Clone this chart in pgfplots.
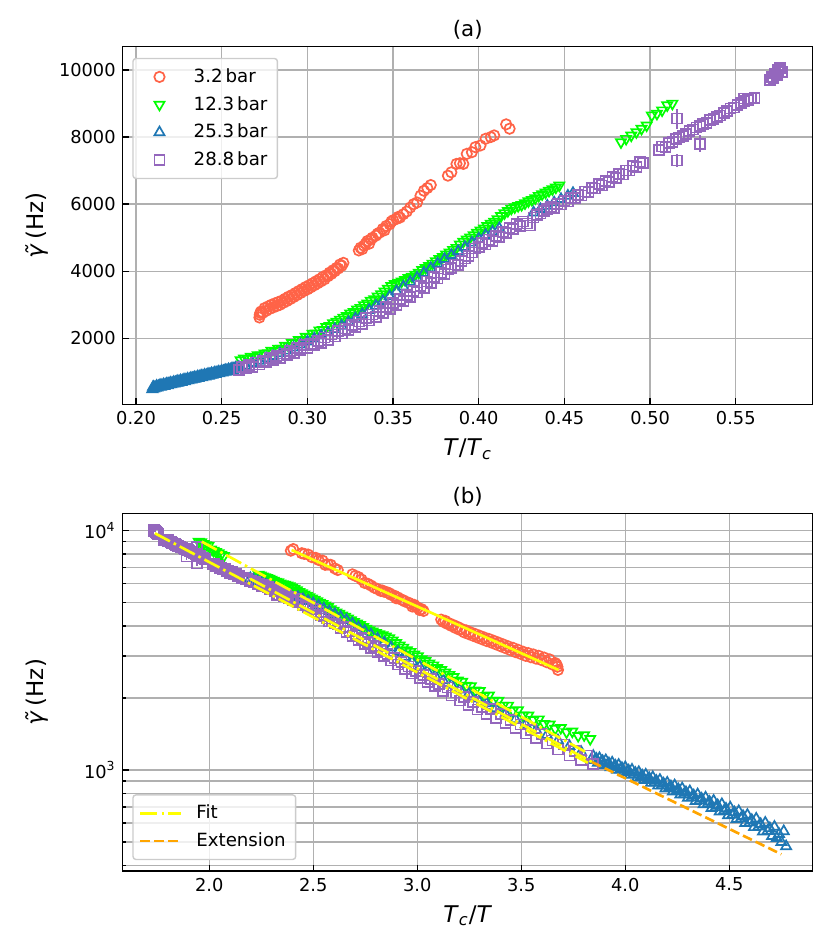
\documentclass[border=0pt]{standalone}
\usepackage{fontspec}
\setmainfont{DejaVu Sans}
\usepackage{pgfplots}
\usepackage{pgfplotstable}
\pgfplotsset{compat=1.18}
\definecolor{cred}{HTML}{FF6347}
\definecolor{cgreen}{HTML}{00FF00}
\definecolor{cblue}{HTML}{1F77B4}
\definecolor{cpurple}{HTML}{9467BD}
\definecolor{cgrid}{HTML}{B0B0B0}
\definecolor{cfit}{HTML}{FFFF00}
\definecolor{cext}{HTML}{FFA500}

\pgfplotstableread[row sep=\\]{
x y\\
0.2720 2620\\ 0.2722 2700\\ 0.2725 2760\\ 0.273 2800\\ 0.274 2760\\ 0.275 2900\\ 0.276 2820\\ 0.277 2950\\ 0.278 2880\\ 0.279 3000\\
0.280 2920\\ 0.281 3040\\ 0.282 2960\\ 0.283 3080\\ 0.284 3000\\ 0.285 3120\\ 0.286 3060\\ 0.287 3180\\ 0.288 3110\\ 0.289 3240\\
0.290 3170\\ 0.291 3290\\ 0.292 3230\\ 0.293 3350\\ 0.294 3290\\ 0.295 3410\\ 0.296 3350\\ 0.297 3470\\ 0.298 3410\\ 0.299 3530\\
0.300 3460\\ 0.301 3580\\ 0.302 3520\\ 0.303 3640\\ 0.304 3580\\ 0.305 3700\\ 0.306 3640\\ 0.307 3760\\ 0.308 3700\\ 0.309 3830\\
0.310 3760\\ 0.311 3880\\ 0.312 3850\\ 0.313 3960\\ 0.314 3920\\ 0.315 4030\\ 0.316 4000\\ 0.317 4100\\ 0.318 4080\\ 0.319 4200\\
0.320 4160\\ 0.321 4250\\
0.330 4620\\ 0.331 4700\\ 0.332 4660\\ 0.333 4760\\ 0.334 4820\\ 0.335 4900\\ 0.336 4820\\ 0.337 4950\\ 0.338 5000\\ 0.340 5060\\
0.341 5120\\ 0.342 5150\\ 0.344 5260\\ 0.345 5220\\ 0.346 5350\\ 0.348 5400\\ 0.349 5480\\ 0.350 5520\\ 0.352 5560\\ 0.353 5620\\
0.354 5600\\ 0.356 5700\\ 0.358 5780\\ 0.360 5900\\ 0.362 6000\\ 0.364 6050\\ 0.366 6250\\ 0.368 6400\\ 0.370 6480\\ 0.372 6570\\
0.382 6850\\ 0.384 6950\\ 0.387 7200\\ 0.389 7220\\ 0.391 7200\\ 0.393 7500\\ 0.396 7550\\ 0.398 7700\\ 0.401 7750\\ 0.404 7950\\
0.407 8000\\ 0.409 8050\\ 0.416 8380\\ 0.418 8250\\
}\redtab

\pgfplotstableread[row sep=\\]{
x y\\
0.261 1350\\ 0.263 1400\\ 0.265 1390\\ 0.267 1450\\ 0.269 1440\\ 0.271 1500\\ 0.273 1490\\ 0.275 1550\\ 0.277 1560\\ 0.279 1630\\
0.281 1620\\ 0.283 1690\\ 0.285 1690\\ 0.287 1780\\ 0.289 1770\\ 0.291 1860\\ 0.293 1860\\ 0.295 1950\\ 0.297 1950\\ 0.299 2050\\
0.301 2040\\ 0.303 2140\\ 0.305 2150\\ 0.307 2240\\ 0.309 2250\\ 0.311 2340\\ 0.313 2370\\ 0.315 2450\\ 0.317 2500\\ 0.319 2560\\
0.321 2620\\ 0.323 2670\\ 0.325 2740\\ 0.327 2790\\ 0.329 2860\\ 0.331 2910\\ 0.333 2990\\ 0.335 3040\\ 0.337 3120\\ 0.339 3170\\
0.341 3250\\ 0.343 3320\\ 0.345 3400\\ 0.347 3480\\ 0.349 3560\\ 0.351 3620\\ 0.353 3660\\ 0.355 3700\\ 0.357 3740\\ 0.359 3800\\
0.361 3840\\ 0.363 3900\\ 0.365 3960\\ 0.367 4040\\ 0.369 4100\\ 0.371 4160\\ 0.373 4230\\ 0.375 4300\\ 0.377 4370\\ 0.379 4430\\
0.381 4500\\ 0.383 4560\\ 0.385 4640\\ 0.387 4700\\ 0.389 4800\\ 0.391 4880\\ 0.393 4950\\ 0.395 5010\\ 0.397 5080\\ 0.399 5150\\
0.401 5220\\ 0.403 5280\\ 0.405 5350\\ 0.407 5420\\ 0.409 5480\\ 0.411 5550\\ 0.413 5650\\ 0.415 5730\\ 0.417 5800\\ 0.419 5870\\
0.421 5910\\ 0.423 5950\\ 0.425 5980\\ 0.427 6030\\ 0.429 6090\\ 0.431 6130\\ 0.433 6180\\ 0.435 6250\\ 0.437 6300\\ 0.439 6350\\
0.441 6400\\ 0.443 6450\\ 0.445 6500\\ 0.447 6560\\
0.483 7850\\ 0.486 7950\\ 0.489 8050\\ 0.492 8150\\ 0.495 8250\\ 0.498 8350\\ 0.501 8650\\ 0.504 8700\\ 0.507 8800\\ 0.510 8950\\
0.513 9000\\
}\greentab

\pgfplotstableread[row sep=\\]{
x y\\
0.2095 480\\ 0.2100 555\\ 0.2105 500\\ 0.2110 540\\ 0.2115 520\\
0.2120 579\\ 0.2125 530\\ 0.2130 571\\ 0.2135 556\\ 0.2140 602\\ 0.2145 553\\ 0.2150 594\\ 0.2155 580\\
0.2160 626\\ 0.2165 577\\ 0.2170 618\\ 0.2175 603\\ 0.2180 649\\ 0.2185 600\\ 0.2190 642\\ 0.2195 627\\
0.2200 673\\ 0.2205 624\\ 0.2210 665\\ 0.2215 650\\ 0.2220 697\\ 0.2225 647\\ 0.2230 689\\ 0.2235 674\\
0.2240 720\\ 0.2245 671\\ 0.2250 712\\ 0.2255 698\\ 0.2260 744\\ 0.2265 694\\ 0.2270 736\\ 0.2275 721\\
0.2280 767\\ 0.2285 718\\ 0.2290 759\\ 0.2295 745\\ 0.2300 791\\ 0.2305 742\\ 0.2310 783\\ 0.2315 769\\
0.2320 815\\ 0.2325 765\\ 0.2330 807\\ 0.2335 792\\ 0.2340 838\\ 0.2345 789\\ 0.2350 830\\ 0.2355 816\\
0.2360 862\\ 0.2365 812\\ 0.2370 854\\ 0.2375 840\\ 0.2380 885\\ 0.2385 836\\ 0.2390 877\\ 0.2395 863\\
0.2400 909\\ 0.2405 860\\ 0.2410 901\\ 0.2415 887\\ 0.2420 933\\ 0.2425 883\\ 0.2430 925\\ 0.2435 910\\
0.2440 956\\ 0.2445 907\\ 0.2450 948\\ 0.2455 934\\ 0.2460 980\\ 0.2465 930\\ 0.2470 972\\ 0.2475 958\\
0.2480 1003\\ 0.2485 954\\ 0.2490 995\\ 0.2495 981\\ 0.2500 1027\\ 0.2505 978\\ 0.2510 1019\\ 0.2515 1005\\
0.2520 1051\\ 0.2525 1001\\ 0.2530 1043\\ 0.2535 1028\\ 0.2540 1074\\ 0.2545 1025\\ 0.2550 1066\\ 0.2555 1052\\
0.2560 1098\\ 0.2565 1048\\ 0.2570 1090\\ 0.2575 1076\\ 0.2580 1121\\ 0.2585 1072\\ 0.2590 1113\\ 0.2595 1099\\
0.2600 1145\\
0.264 1190\\ 0.268 1260\\ 0.272 1330\\ 0.276 1400\\ 0.280 1470\\ 0.284 1550\\ 0.288 1630\\ 0.292 1720\\ 0.296 1810\\
0.300 1900\\ 0.304 1990\\ 0.308 2080\\ 0.312 2170\\ 0.316 2270\\ 0.320 2370\\ 0.324 2480\\ 0.328 2590\\ 0.332 2710\\ 0.336 2840\\
0.340 2970\\ 0.344 3110\\ 0.348 3250\\ 0.352 3400\\ 0.356 3540\\ 0.360 3680\\ 0.364 3810\\ 0.368 3950\\ 0.372 4090\\ 0.376 4230\\
0.380 4360\\ 0.384 4480\\ 0.388 4600\\ 0.392 4720\\ 0.396 4850\\ 0.400 4970\\ 0.404 5080\\ 0.408 5180\\ 0.412 5280\\
0.432 5750\\ 0.436 5850\\ 0.440 5950\\ 0.444 6050\\ 0.448 6150\\ 0.452 6250\\ 0.455 6330\\
}\bluetab

\pgfplotstableread[row sep=\\]{
x y\\
0.260 1060\\ 0.262 1150\\ 0.264 1100\\ 0.266 1200\\ 0.268 1150\\ 0.270 1280\\ 0.272 1220\\ 0.274 1330\\ 0.276 1290\\ 0.278 1410\\
0.280 1360\\ 0.282 1470\\ 0.284 1420\\ 0.286 1550\\ 0.288 1500\\ 0.290 1620\\ 0.292 1570\\ 0.294 1710\\ 0.296 1650\\ 0.298 1800\\
0.300 1710\\ 0.302 1830\\ 0.304 1790\\ 0.306 1920\\ 0.308 1870\\ 0.310 2020\\ 0.312 1950\\ 0.314 2110\\ 0.316 2050\\ 0.318 2210\\
0.320 2140\\ 0.322 2290\\ 0.324 2240\\ 0.326 2400\\ 0.328 2330\\ 0.330 2500\\ 0.332 2420\\ 0.334 2600\\ 0.336 2530\\ 0.338 2710\\
0.340 2640\\ 0.342 2820\\ 0.344 2760\\ 0.346 2940\\ 0.348 2870\\ 0.350 3060\\ 0.352 2990\\ 0.354 3170\\ 0.356 3120\\ 0.358 3300\\
0.360 3240\\ 0.362 3420\\ 0.364 3370\\ 0.366 3550\\ 0.368 3500\\ 0.370 3690\\ 0.372 3640\\ 0.374 3820\\ 0.376 3780\\ 0.378 3960\\
0.380 3920\\ 0.382 4050\\ 0.384 4100\\ 0.386 4200\\ 0.388 4180\\ 0.390 4300\\ 0.392 4380\\ 0.394 4450\\ 0.396 4560\\ 0.398 4680\\
0.400 4720\\ 0.402 4840\\ 0.404 4800\\ 0.406 4950\\ 0.408 4900\\ 0.410 5060\\ 0.412 5020\\ 0.414 5170\\ 0.416 5130\\ 0.418 5290\\
0.420 5250\\ 0.422 5400\\ 0.424 5350\\ 0.426 5480\\ 0.428 5420\\ 0.430 5360\\ 0.432 5600\\ 0.434 5680\\ 0.436 5720\\ 0.438 5800\\
0.440 5850\\ 0.442 5920\\ 0.444 5880\\ 0.446 6010\\ 0.448 5990\\ 0.450 6100\\ 0.452 6080\\ 0.454 6190\\ 0.456 6180\\ 0.458 6280\\
0.460 6260\\ 0.462 6380\\ 0.464 6360\\ 0.466 6480\\ 0.468 6470\\ 0.470 6600\\ 0.472 6560\\ 0.474 6700\\ 0.476 6670\\ 0.478 6800\\
0.480 6780\\ 0.482 6900\\ 0.484 6880\\ 0.486 7000\\ 0.488 7000\\ 0.490 7130\\ 0.492 7100\\ 0.494 7250\\ 0.496 7220\\
0.505 7620\\ 0.507 7720\\ 0.509 7700\\ 0.511 7830\\ 0.513 7860\\ 0.515 7940\\ 0.517 7990\\ 0.519 8040\\ 0.521 8100\\ 0.523 8180\\
0.525 8230\\ 0.527 8290\\ 0.529 8330\\ 0.531 8380\\ 0.533 8420\\ 0.535 8500\\ 0.537 8530\\ 0.539 8600\\ 0.541 8640\\ 0.543 8720\\
0.545 8780\\ 0.547 8850\\ 0.549 8880\\ 0.551 8960\\ 0.553 9020\\ 0.555 9080\\ 0.557 9110\\ 0.559 9150\\ 0.561 9160\\
0.570 9700\\ 0.571 9800\\ 0.572 9750\\ 0.573 9900\\ 0.574 9850\\ 0.575 9950\\ 0.576 10050\\ 0.577 9950\\
}\purtab

\pgfplotstableread[row sep=\\]{
x y e\\
0.5155 8550 300\\ 0.5155 7300 200\\ 0.529 7800 250\\ 0.555 9150 150\\ 0.5745 10000 150\\
}\purerr

\pgfplotsset{
  mystyle/.style={
    scale only axis, width=345pt, height=178.8pt,
    axis line style={line width=0.7pt},
    every tick/.style={line width=0.7pt, black},
    major tick length=3.1pt, minor tick length=1.8pt,
    tick align=inside, tick pos=left,
    xmajorgrids=true, ymajorgrids=true,
    major grid style={cgrid, line width=0.7pt},
    minor grid style={cgrid, line width=0.7pt},
    tick label style={font=\fontsize{8.9}{10}\selectfont},
    /pgf/number format/assume math mode=true,
    scaled ticks=false,
    clip marker paths=true,
    every axis title shift=0pt,
    label style={font=\fontsize{11.5}{13}\selectfont},
    title style={font=\fontsize{10.7}{12}\selectfont, at={(axis description cs:0.5,1)}, anchor=center, yshift=8.35pt},
    x label style={at={(axis description cs:0.5,-0.125)}, anchor=center},
    y label style={at={(axis description cs:-0.124,0.5)}, anchor=center},
    legend cell align=left,
    legend style={draw=black!20, fill=white, fill opacity=0.8, text opacity=1,
      rounded corners=1.5pt, line width=0.7pt, font=\fontsize{9.1}{10}\selectfont,
      inner xsep=3pt, inner ysep=3pt, row sep=1.45pt,
      /tikz/every odd column/.append style={column sep=4.85pt}},
  },
  mred/.style={only marks, mark=o, mark size=2.6pt, cred, mark options={line width=0.85pt}},
  mgreen/.style={only marks, mark=triangle, mark size=2.9pt, cgreen, mark options={line width=0.85pt, rotate=180}},
  mblue/.style={only marks, mark=triangle, mark size=2.9pt, cblue, mark options={line width=0.85pt}},
  mpur/.style={only marks, mark=square, mark size=2.5pt, cpurple, mark options={line width=0.85pt}},
}

\begin{document}
\begin{tikzpicture}
\useasboundingbox (-61.35pt,-272.35pt) rectangle (353.65pt,202.15pt);
\begin{axis}[mystyle, at={(0,0)}, anchor=south west,
  xmin=0.1922, xmax=0.5949, ymin=32, ymax=10695,
  xtick={0.2,0.25,0.3,0.35,0.4,0.45,0.5,0.55},
  ytick={2000,4000,6000,8000,10000},
  xticklabel style={/pgf/number format/.cd, fixed, fixed zerofill, precision=2},
  yticklabel style={/pgf/number format/.cd, fixed, 1000 sep={}},
  title={(a)},
  xlabel={\textit{T}/\textit{T}\textsubscript{\textit{c}}},
  ylabel={\textit{γ̃}\,(Hz)},
  legend style={at={(axis description cs:0.0139,0.969)}, anchor=north west},
  legend image code/.code={\path[draw=none,fill=none] (0pt,-3pt) rectangle (20.5pt,3pt); \draw[mark repeat=2,mark phase=2,#1] plot coordinates {(0pt,0pt) (10.25pt,0pt) (20.5pt,0pt)};},
]
\addplot[mred] table[x=x,y=y] {\redtab};
\addlegendentry{3.2\,bar}
\addplot[mgreen] table[x=x,y=y] {\greentab};
\addlegendentry{12.3\,bar}
\addplot[mblue] table[x=x,y=y] {\bluetab};
\addlegendentry{25.3\,bar}
\addplot[mpur] table[x=x,y=y] {\purtab};
\addlegendentry{28.8\,bar}
\addplot[mpur, forget plot, error bars/.cd, y dir=both, y explicit, error mark=none, error bar style={line width=0.85pt, cpurple}] table[x=x,y=y,y error=e] {\purerr};
\end{axis}

\begin{axis}[mystyle, at={(0,-54.5pt)}, anchor=north west,
  ymode=log,
  xmin=1.584, xmax=4.901, ymin=379, ymax=11820,
  xtick={2,2.5,3,3.5,4,4.5},
  xticklabel style={/pgf/number format/.cd, fixed, fixed zerofill, precision=1},
  ytick={1000,10000},
  yticklabels={10\textsuperscript{3},10\textsuperscript{4}},
  minor ytick={400,500,600,700,800,900,2000,3000,4000,5000,6000,7000,8000,9000},
  yminorgrids=true,
  title={(b)},
  xlabel={\textit{T}\textsubscript{\textit{c}}/\textit{T}},
  ylabel={\textit{γ̃}\,(Hz)},
  legend style={at={(axis description cs:0.0139,0.030)}, anchor=south west},
  legend image code/.code={\draw[#1] (0pt,0pt) -- (20.5pt,0pt);},
]
\addplot[mred, forget plot] table[x expr=1/\thisrow{x},y=y] {\redtab};
\addplot[mgreen, forget plot] table[x expr=1/\thisrow{x},y=y] {\greentab};
\addplot[mblue, forget plot] table[x expr=1/\thisrow{x},y=y] {\bluetab};
\addplot[mpur, forget plot] table[x expr=1/\thisrow{x},y=y] {\purtab};
\addplot[mpur, forget plot, error bars/.cd, y dir=both, y explicit, error mark=none, error bar style={line width=0.85pt, cpurple}] table[x expr=1/\thisrow{x},y=y,y error=e] {\purerr};
\addplot[cfit, line width=1.33pt, dash pattern=on 8.5pt off 2.1pt on 1.3pt off 2.1pt] coordinates {(1.739,9750) (3.82,1072)};
\addlegendentry{Fit}
\addplot[cfit, line width=1.33pt, dash pattern=on 8.5pt off 2.1pt on 1.3pt off 2.1pt, forget plot] coordinates {(1.964,9000) (3.807,1193)};
\addplot[cfit, line width=1.33pt, dash pattern=on 8.5pt off 2.1pt on 1.3pt off 2.1pt, forget plot] coordinates {(2.196,6300) (3.84,1080)};
\addplot[cfit, line width=1.33pt, forget plot] coordinates {(2.396,8300) (3.679,2620)};
\addplot[cext, line width=1.33pt, dash pattern=on 4.9pt off 2.1pt] coordinates {(3.84,1080) (4.75,445)};
\addlegendentry{Extension}
\end{axis}
\end{tikzpicture}
\end{document}
